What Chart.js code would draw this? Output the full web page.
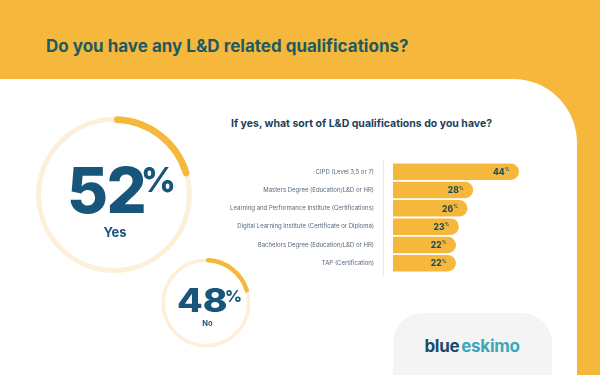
<!DOCTYPE html>
<html>
<head>
<meta charset="utf-8">
<script src="https://cdn.jsdelivr.net/npm/chart.js@4.4.1/dist/chart.umd.min.js"></script>
<style>
  html, body { margin:0; padding:0; }
  body { width:600px; height:375px; position:relative; overflow:hidden; background:#F6B83C; font-family: Inter, "Noto Sans", sans-serif; }
  #panel { position:absolute; left:0; top:79px; width:577px; height:296px; background:#fff; border-top-right-radius:64px; }
  .t { position:absolute; line-height:1; white-space:nowrap; }
  #logoBox { position:absolute; left:393px; top:313px; width:159px; height:62px; background:#F4F4F4; border-top-left-radius:30px; border-top-right-radius:30px; }
  canvas { position:absolute; }
</style>
</head>
<body>
<div id="panel"></div>
<div class="t" id="title" style="left:46px; top:37.6px; font-size:17px; font-weight:700; color:#1F5A5E;"></div>
<div class="t" id="subtitle" style="left:231px; top:119px; font-size:10.5px; font-weight:700; color:#1E3F58;"></div>

<div id="bigWrap" style="position:absolute; left:29px; top:110px; width:170px; height:170px;"><canvas id="bigRing"></canvas></div>
<div id="smallWrap" style="position:absolute; left:155.5px; top:252.7px; width:100px; height:100px;"><canvas id="smallRing"></canvas></div>
<div id="barWrap" style="position:absolute; left:220px; top:140px; width:360px; height:155px;"><canvas id="bars"></canvas></div>

<div class="t" id="yesNum" style="left:67px; top:158.6px; font-size:63px; font-weight:800; color:#17557A; letter-spacing:-1.5px;"></div>
<div class="t" id="yesPctSign" style="left:141px; top:162.6px; font-size:34px; font-weight:800; color:#17557A;">%</div>
<div class="t" id="yesLabel" style="left:115px; top:226.3px; font-size:13px; font-weight:700; color:#17557A; transform:translateX(-50%);"></div>

<div class="t" id="noNum" style="left:177px; top:285.4px; font-size:32px; font-weight:800; color:#17557A; letter-spacing:0px; transform-origin:0 0; transform:scaleX(1.17);"></div>
<div class="t" id="noPctSign" style="left:225px; top:287.7px; font-size:16.5px; font-weight:800; color:#17557A;">%</div>
<div class="t" id="noLabel" style="left:207.5px; top:320px; font-size:7.5px; font-weight:700; color:#17557A; transform:translateX(-50%);"></div>

<div id="logoBox"></div>
<div class="t" id="logo" style="left:472px; top:337.6px; font-size:17px; font-weight:700; transform:translateX(-50%); letter-spacing:-0.3px;"><span style="color:#1B4A6B;">blue</span><span style="color:#3BA7B8; margin-left:2px;">eskimo</span></div>

<script>
// ---- data ----
const titleText = "Do you have any L&D related qualifications?";
const subtitleText = "If yes, what sort of L&D qualifications do you have?";
const answerLabels = ["Yes", "No"];
const answerValues = [52, 48];
const yesArc = [21, 79];
const noArc = [21, 79];
const qualCategories = [
  "CIPD (Level 3,5 or 7)",
  "Masters Degree (Education/L&D or HR)",
  "Learning and Performance Institute (Certifications)",
  "Digital Learning Institute (Certificate or Diploma)",
  "Bachelors Degree (Education/L&D or HR)",
  "TAP (Certification)"
];
const qualValues = [44, 28, 26, 23, 22, 22];

// ---- text ----
document.getElementById('title').textContent = titleText;
document.getElementById('subtitle').textContent = subtitleText;
document.getElementById('yesNum').textContent = answerValues[0];
document.getElementById('yesLabel').textContent = answerLabels[0];
document.getElementById('noNum').textContent = answerValues[1];
document.getElementById('noLabel').textContent = answerLabels[1];

const ORANGE = '#F6B83C';
const CREAM = '#FDF0D9';

const creamRing = {
  id: 'creamRing',
  beforeDatasetsDraw(chart, args, opts) {
    const arc = chart.getDatasetMeta(0).data[0];
    if (!arc) return;
    const ctx = chart.ctx;
    const r = (arc.outerRadius + arc.innerRadius) / 2;
    ctx.save();
    ctx.beginPath();
    ctx.arc(arc.x, arc.y, r, 0, Math.PI * 2);
    ctx.strokeStyle = CREAM;
    ctx.lineWidth = opts.width;
    ctx.stroke();
    ctx.restore();
  }
};

function ring(id, values, pad, cutout, radius, ringWidth) {
  new Chart(document.getElementById(id), {
    type: 'doughnut',
    data: { labels: ['arc', 'rest'], datasets: [{ data: values, backgroundColor: [ORANGE, 'rgba(0,0,0,0)'], borderWidth: 0, borderRadius: radius }] },
    options: {
      responsive: true, maintainAspectRatio: false, animation: false, events: [],
      cutout: cutout,
      layout: { padding: pad },
      plugins: { legend: { display: false }, tooltip: { enabled: false }, creamRing: { width: ringWidth } }
    },
    plugins: [creamRing]
  });
}
ring('bigRing', yesArc, 6.2, 72, 3.5, 5);
ring('smallRing', noArc, 5, 40.5, 2.5, 3.5);

const axisLine = {
  id: 'axisLine',
  beforeDatasetsDraw(chart) {
    const a = chart.chartArea, ctx = chart.ctx;
    ctx.save();
    ctx.beginPath();
    ctx.moveTo(a.left - 9.5, a.top - 3);
    ctx.lineTo(a.left - 9.5, a.bottom + 4);
    ctx.strokeStyle = '#EBEBEB';
    ctx.lineWidth = 1;
    ctx.stroke();
    ctx.restore();
  }
};
const valueLabels = {
  id: 'valueLabels',
  afterDatasetsDraw(chart) {
    const ctx = chart.ctx;
    const meta = chart.getDatasetMeta(0);
    ctx.save();
    ctx.fillStyle = '#22505A';
    meta.data.forEach((bar, i) => {
      const v = String(chart.data.datasets[0].data[i]);
      const right = bar.x - 9.5;
      ctx.font = '700 4.5px Inter';
      const pw = ctx.measureText('%').width;
      ctx.textBaseline = 'alphabetic';
      ctx.textAlign = 'right';
      ctx.fillText('%', right, bar.y - 0.5);
      ctx.font = '800 8.5px Inter';
      ctx.fillText(v, right - pw - 0.3, bar.y + 3.2);
    });
    ctx.restore();
  }
};

new Chart(document.getElementById('bars'), {
  type: 'bar',
  data: { labels: qualCategories, datasets: [{ data: qualValues, backgroundColor: ORANGE, borderWidth: 0, borderRadius: 11, borderSkipped: 'start', barPercentage: 0.9, categoryPercentage: 1.0 }] },
  options: {
    indexAxis: 'y',
    responsive: true, maintainAspectRatio: false, animation: false, events: [],
    layout: { padding: { top: 5.7, bottom: 6, right: 15.2, left: 0 } },
    scales: {
      x: { display: false, min: 0, max: 60 },
      y: {
        grid: { display: false, drawTicks: false },
        border: { display: false },
        ticks: { color: '#56697C', font: { family: 'Inter', size: 6 }, padding: 19 },
        afterFit(scale) { scale.width = 173; }
      }
    },
    plugins: { legend: { display: false }, tooltip: { enabled: false } }
  },
  plugins: [axisLine, valueLabels]
});
</script>
</body>
</html>
